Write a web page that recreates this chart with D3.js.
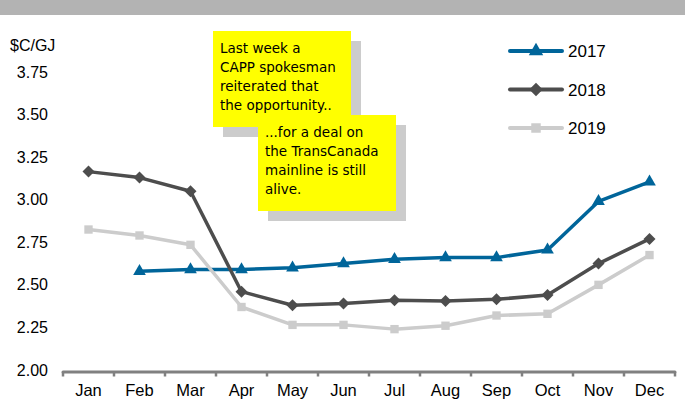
<!DOCTYPE html>
<html>
<head>
<meta charset="utf-8">
<script src="https://cdn.jsdelivr.net/npm/d3@7"></script>
<style>
  body { margin: 0; background: #fff; }
  svg { display: block; font-family: 'Liberation Sans', Arial, sans-serif; }
  .note { font-family: 'Comic Sans MS', 'DejaVu Sans', sans-serif; font-size: 13.5px; fill: #000; }
</style>
</head>
<body>
<svg width="685" height="405"></svg>
<script>
const months = ['Jan', 'Feb', 'Mar', 'Apr', 'May', 'Jun', 'Jul', 'Aug', 'Sep', 'Oct', 'Nov', 'Dec']
const yTicks = [2.00, 2.25, 2.50, 2.75, 3.00, 3.25, 3.50, 3.75]
const v2017 = [null, 2.58, 2.59, 2.59, 2.60, 2.625, 2.65, 2.66, 2.66, 2.705, 2.99, 3.105]
const v2018 = [3.165, 3.13, 3.05, 2.46, 2.38, 2.39, 2.41, 2.405, 2.415, 2.44, 2.625, 2.77]
const v2019 = [2.825, 2.79, 2.735, 2.37, 2.265, 2.265, 2.24, 2.26, 2.32, 2.33, 2.50, 2.675]
const noteA = ['Last week a', 'CAPP spokesman', 'reiterated that', 'the opportunity..']
const noteB = ['...for a deal on', 'the TransCanada', 'mainline is still', 'alive.']

const series = [
  { name: '2017', values: v2017, color: '#00659a', symbol: d3.symbolTriangle, size: 70, rot: 0 },
  { name: '2018', values: v2018, color: '#4d4d4d', symbol: d3.symbolSquare, size: 72, rot: 45 },
  { name: '2019', values: v2019, color: '#cccccc', symbol: d3.symbolSquare, size: 70, rot: 0 }
]

const svg = d3.select('svg')

// grey banner at the top
svg.append('rect')
  .attr('x', 0).attr('y', 0)
  .attr('width', 685).attr('height', 15)
  .attr('fill', '#b3b3b3')

const x = d3.scaleBand().domain(months).range([63, 675])
const y = d3.scaleLinear().domain([2, 3.75]).range([370, 72])

// y labels (no axis line)
svg.append('g')
  .selectAll('text')
  .data(yTicks)
  .enter().append('text')
  .attr('x', 48)
  .attr('y', d => y(d))
  .attr('dy', '0.35em')
  .attr('text-anchor', 'end')
  .attr('font-size', 16)
  .attr('fill', '#000')
  .text(d => d.toFixed(2))

svg.append('text')
  .attr('x', 10).attr('y', 51)
  .attr('font-size', 16)
  .text('$C/GJ')

// x axis
const xAxis = svg.append('g')
  .attr('transform', 'translate(0,372)')
xAxis.append('line')
  .attr('x1', x.range()[0]).attr('x2', x.range()[1])
  .attr('stroke', '#808080').attr('stroke-width', 3)
  .attr('stroke-linecap', 'round')
xAxis.selectAll('.tk')
  .data(months.map(m => x(m)).concat([x.range()[1]]))
  .enter().append('line')
  .attr('x1', d => d).attr('x2', d => d)
  .attr('y1', 0).attr('y2', 4.5)
  .attr('stroke', '#808080').attr('stroke-width', 2.5)
xAxis.selectAll('text')
  .data(months)
  .enter().append('text')
  .attr('x', d => x(d) + x.bandwidth() / 2)
  .attr('y', 24)
  .attr('text-anchor', 'middle')
  .attr('font-size', 16.5)
  .text(d => d)

// lines and markers
const line = d3.line()
  .defined(d => d.v != null)
  .x(d => x(d.m) + x.bandwidth() / 2)
  .y(d => y(d.v))

series.forEach(s => {
  const pts = s.values.map((v, i) => ({ m: months[i], v: v }))
  svg.append('path')
    .datum(pts)
    .attr('d', line)
    .attr('fill', 'none')
    .attr('stroke', s.color)
    .attr('stroke-width', 3.5)
    .attr('stroke-linejoin', 'round')
  svg.append('g')
    .selectAll('path')
    .data(pts.filter(d => d.v != null))
    .enter().append('path')
    .attr('d', d3.symbol().type(s.symbol).size(s.size))
    .attr('transform', d => `translate(${x(d.m) + x.bandwidth() / 2},${y(d.v)}) rotate(${s.rot})`)
    .attr('fill', s.color)
})

// legend
const legend = svg.append('g')
series.forEach((s, i) => {
  const ly = 51 + i * 38.5
  legend.append('line')
    .attr('x1', 510).attr('x2', 562)
    .attr('y1', ly).attr('y2', ly)
    .attr('stroke', s.color).attr('stroke-width', 4)
    .attr('stroke-linecap', 'round')
  legend.append('path')
    .attr('d', d3.symbol().type(s.symbol).size(s.size + 20))
    .attr('transform', `translate(536,${ly}) rotate(${s.rot})`)
    .attr('fill', s.color)
  legend.append('text')
    .attr('x', 568).attr('y', ly)
    .attr('dy', '0.36em')
    .attr('font-size', 17)
    .text(s.name)
})

// sticky notes
function note(lines, bx, by, w, h) {
  svg.append('rect')
    .attr('x', bx + 10).attr('y', by + 10)
    .attr('width', w).attr('height', h)
    .attr('fill', '#cccccc')
  svg.append('rect')
    .attr('x', bx).attr('y', by)
    .attr('width', w).attr('height', h)
    .attr('fill', '#ffff00')
  svg.append('g')
    .selectAll('text')
    .data(lines)
    .enter().append('text')
    .attr('class', 'note')
    .attr('x', bx + 7)
    .attr('y', (d, i) => by + 22 + i * 19)
    .text(d => d)
}
note(noteA, 213, 31, 138, 96)
note(noteB, 258, 115, 138, 96)
</script>
</body>
</html>
